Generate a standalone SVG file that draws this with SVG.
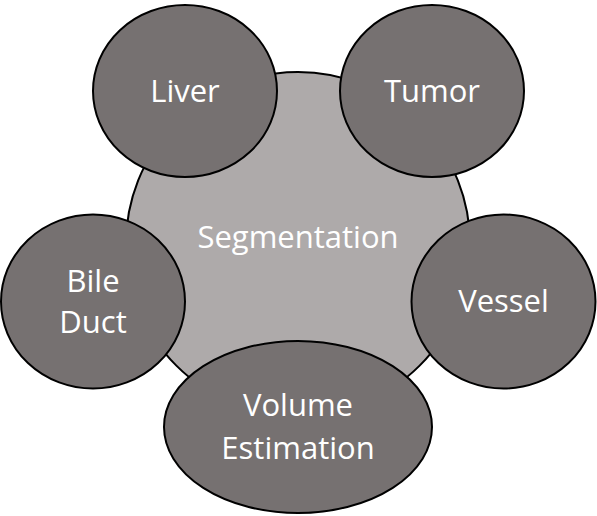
<svg xmlns="http://www.w3.org/2000/svg" width="597" height="516" viewBox="0 0 597 516">
<style>
.hub{fill:#AEAAAA;stroke:#000;stroke-width:2}
.sat{fill:#767171;stroke:#000;stroke-width:2}
.t{font-family:"Open Sans","Lato","Liberation Sans",sans-serif;font-size:31px;fill:#fff;text-anchor:middle}
</style>
<rect width="597" height="516" fill="#fff"/>
<g id="connectors"/>
<g id="segmentation">
<circle class="hub" cx="298" cy="244" r="172"/>
<text class="t" x="298" y="248">Segmentation</text>
</g>
<g id="liver">
<ellipse class="sat" cx="185" cy="91" rx="92" ry="86"/>
<text class="t" x="185" y="102">Liver</text>
</g>
<g id="tumor">
<ellipse class="sat" cx="432" cy="91" rx="92" ry="86"/>
<text class="t" x="432" y="102">Tumor</text>
</g>
<g id="bile-duct">
<ellipse class="sat" cx="93" cy="301.5" rx="92" ry="87"/>
<text class="t" x="93" y="292">Bile</text>
<text class="t" x="93" y="333">Duct</text>
</g>
<g id="vessel">
<ellipse class="sat" cx="503.5" cy="301.5" rx="92" ry="87"/>
<text class="t" x="503.5" y="312">Vessel</text>
</g>
<g id="volume-estimation">
<ellipse class="sat" cx="298" cy="427" rx="134" ry="86"/>
<text class="t" x="298" y="416">Volume</text>
<text class="t" x="298" y="459">Estimation</text>
</g>
</svg>
